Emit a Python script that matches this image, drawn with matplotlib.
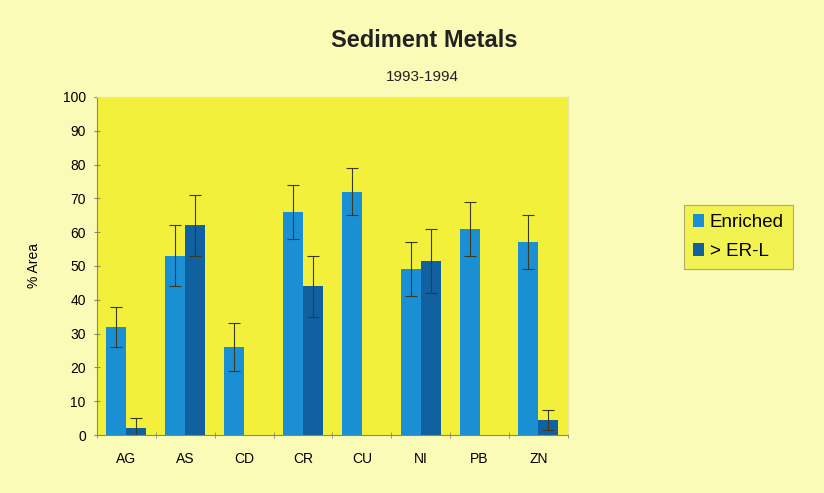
import numpy as np
import matplotlib
matplotlib.use("Agg")
import matplotlib.pyplot as plt
from matplotlib import font_manager

metals = ["AG", "AS", "CD", "CR", "CU", "NI", "PB", "ZN"]
enriched = [32, 53, 26, 66, 72, 49, 61, 57]
enriched_err = [6, 9, 7, 8, 7, 8, 8, 8]
erl = [2, 62, 0, 44, 0, 51.5, 0, 4.5]
erl_err = [3, 9, 0, 9, 0, 9.5, 0, 3]

names = {f.name for f in font_manager.fontManager.ttflist}
fam = "Liberation Sans Narrow" if "Liberation Sans Narrow" in names else "Liberation Sans"
plt.rcParams["font.family"] = [fam, "DejaVu Sans"]

fig = plt.figure(figsize=(8.24, 4.93), dpi=100, facecolor="#fbfbb8")
ax = fig.add_axes([0.1177, 0.1176, 0.5715, 0.6857])
ax.set_facecolor("#f2f03a")

x = np.arange(len(metals))
w = 0.34
has_erl = np.array(erl) > 0
ax.bar(x - w / 2, enriched, w, color="#1a8fd4", label="Enriched", zorder=2)
ax.bar(x + w / 2, erl, w, color="#11609f", label="> ER-L", zorder=2)
ax.errorbar(x - w / 2, enriched, yerr=enriched_err, fmt="none", ecolor="#3a3a20",
            elinewidth=0.8, capsize=4, capthick=0.8, zorder=3)
ax.errorbar((x + w / 2)[has_erl], np.array(erl)[has_erl], yerr=np.array(erl_err)[has_erl],
            fmt="none", ecolor="#3a3a20", elinewidth=0.8, capsize=4, capthick=0.8, zorder=3)

ax.set_xlim(-0.5, len(metals) - 0.5)
ax.set_ylim(0, 100)
ax.set_yticks(range(0, 101, 10))
ax.set_xticks(x)
ax.set_xticklabels(metals)
ax.set_xticks(np.arange(-0.5, len(metals)), minor=True)
ax.tick_params(axis="x", which="major", length=0, pad=12, labelsize=10)
ax.tick_params(axis="x", which="minor", length=5, color="#8a8a60", direction="inout")
ax.tick_params(axis="y", length=4, color="#8a8a60", labelsize=10, direction="inout", pad=6)
for s in ["top", "right"]:
    ax.spines[s].set_color("#e6e6a0")
for s in ["left", "bottom"]:
    ax.spines[s].set_color("#8a8a60")
    ax.spines[s].set_linewidth(0.8)

ax.set_ylabel("% Area", fontsize=10, labelpad=16)

fig.text(0.515, 0.918, "Sediment Metals", ha="center", va="center", fontsize=17, fontweight="bold", color="#222222")
fig.text(0.512, 0.843, "1993-1994", ha="center", va="center", fontsize=11, color="#222222")

leg = ax.legend(loc="center left", bbox_to_anchor=(1.246, 0.586), fontsize=13.5, frameon=True,
                fancybox=False, handlelength=0.6, handleheight=0.7, handletextpad=0.3,
                borderpad=0.5, labelspacing=0.6, borderaxespad=0)
leg.get_frame().set_facecolor("#f2f03a")
leg.get_frame().set_edgecolor("#9a9a60")
leg.get_frame().set_linewidth(0.8)

fig.savefig("out.png", dpi=100, facecolor=fig.get_facecolor())
